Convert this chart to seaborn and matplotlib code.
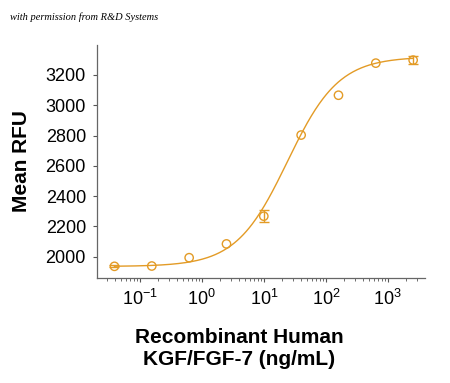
import numpy as np
import pandas as pd
import matplotlib
matplotlib.use("Agg")
import matplotlib.pyplot as plt
import seaborn as sns

# Data
conc = [0.039, 0.156, 0.625, 2.5, 10, 40, 160, 640, 2560]  # ng/mL
rfu = [1936, 1938, 1993, 2084, 2267, 2803, 3066, 3278, 3298]
rfu_err = [6, np.nan, np.nan, np.nan, 40, np.nan, np.nan, np.nan, 24]

# 4-parameter logistic fit shown as the curve
fit_bottom = 1935
fit_top = 3320
fit_ec50 = 24.0
fit_hill = 1.05

color = "#E39B26"

sns.set_style("ticks")
plt.rcParams["font.family"] = ["Liberation Sans", "DejaVu Sans"]
plt.rcParams["mathtext.fontset"] = "custom"
plt.rcParams["mathtext.rm"] = "Liberation Sans"
plt.rcParams["text.color"] = "black"
plt.rcParams["axes.labelcolor"] = "black"
plt.rcParams["xtick.labelcolor"] = "black"
plt.rcParams["ytick.labelcolor"] = "black"

fig = plt.figure(figsize=(4.5, 3.83), dpi=100)
ax = fig.add_axes([0.2156, 0.2742, 0.7289, 0.6084])

xs = np.logspace(np.log10(0.039), np.log10(2560), 300)
curve = fit_bottom + (fit_top - fit_bottom) / (1 + (fit_ec50 / xs) ** fit_hill)
fit_df = pd.DataFrame({"conc": xs, "rfu": curve})
sns.lineplot(data=fit_df, x="conc", y="rfu", color=color, linewidth=1.0, ax=ax)

df = pd.DataFrame({"conc": conc, "rfu": rfu, "err": rfu_err})
bars = df.dropna()
ax.errorbar(bars["conc"], bars["rfu"], yerr=bars["err"], fmt="none", ecolor=color,
            elinewidth=1.0, capsize=3.5, capthick=1.0)
sns.scatterplot(data=df, x="conc", y="rfu", marker="o", s=36, facecolor="none",
                edgecolor=color, linewidth=1.0, ax=ax, zorder=3)

ax.set_xscale("log")
ax.set_xlim(10 ** -1.69, 10 ** 3.6)
ax.set_ylim(1859, 3398)
ax.set_yticks([2000, 2200, 2400, 2600, 2800, 3000, 3200])
ax.set_xticks([0.1, 1, 10, 100, 1000])

ax.tick_params(axis="both", which="major", labelsize=13, length=3, width=0.8,
               color="#555555", pad=5)
ax.tick_params(axis="x", which="minor", length=2, width=0.6, color="#555555")
for s in ["top", "right"]:
    ax.spines[s].set_visible(False)
for s in ["left", "bottom"]:
    ax.spines[s].set_color("#666666")
    ax.spines[s].set_linewidth(0.9)

ax.set_xlabel("Recombinant Human\nKGF/FGF-7 (ng/mL)", fontsize=15,
              fontweight="bold", linespacing=1.2)
ax.xaxis.set_label_coords(0.433, -0.215)
ax.xaxis.label.set_va("top")
ax.set_ylabel("Mean RFU", fontsize=15, fontweight="bold")
ax.yaxis.set_label_coords(-0.2, 0.5)

fig.text(0.022, 0.955, "with permission from R&D Systems", fontsize=7.5,
         fontstyle="italic", family="Liberation Serif", va="center", ha="left")

fig.savefig("out.png", dpi=100)
